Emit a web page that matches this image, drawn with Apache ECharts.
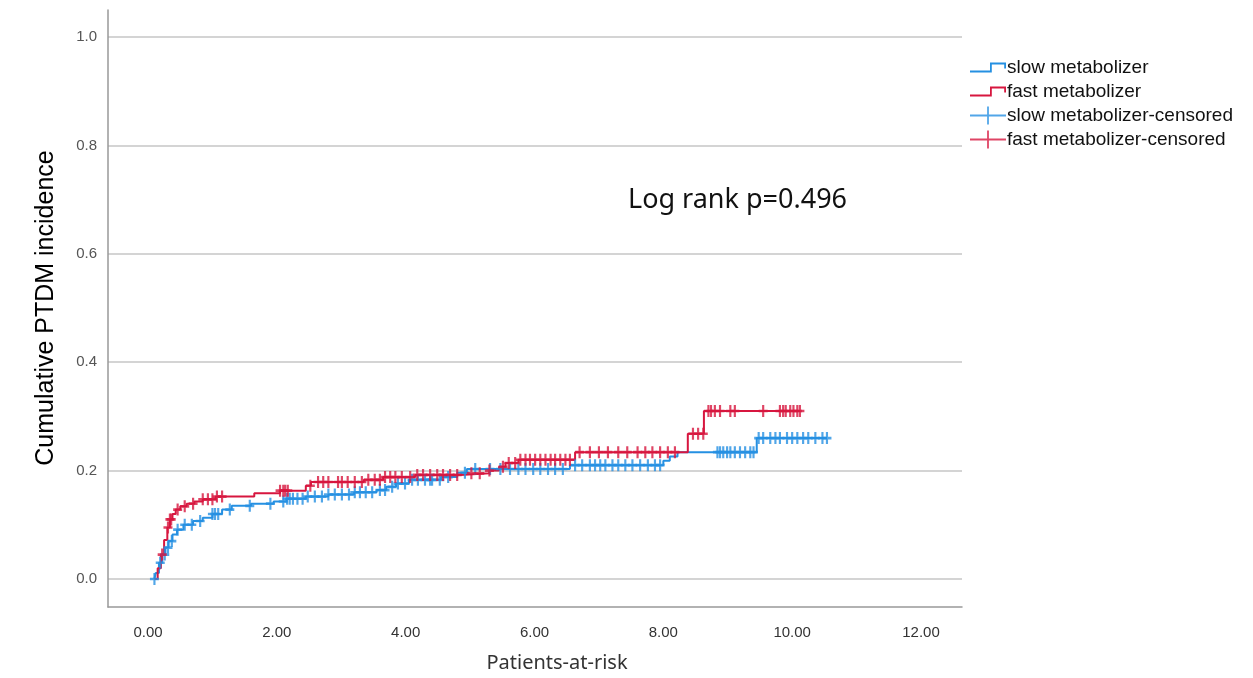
<!DOCTYPE html>
<html>
<head>
<meta charset="utf-8">
<script src="https://cdn.jsdelivr.net/npm/echarts@6/dist/echarts.min.js"></script>
<style>
html,body{margin:0;padding:0;background:#fff;}
#main{width:1253px;height:678px;}
</style>
</head>
<body>
<div id="main"></div>
<script>
// step points (event time, cumulative incidence after event)
var fastT = [0.1, 0.15, 0.2, 0.25, 0.3, 0.34, 0.38, 0.43, 0.5, 0.6, 0.72, 0.85, 1.05, 1.65, 2.05, 2.45, 2.53, 3.35, 3.65, 4.15, 4.85, 5.3, 5.45, 5.55, 5.75, 6.63, 8.38, 8.63, 10.12];
var fastV = [0, 0.02, 0.045, 0.072, 0.095, 0.11, 0.12, 0.128, 0.134, 0.139, 0.143, 0.147, 0.152, 0.158, 0.163, 0.172, 0.179, 0.183, 0.188, 0.192, 0.195, 0.2, 0.207, 0.214, 0.22, 0.234, 0.268, 0.31, 0.31];
var slowT = [0.1, 0.12, 0.17, 0.22, 0.27, 0.32, 0.38, 0.45, 0.55, 0.7, 0.85, 1.0, 1.15, 1.3, 1.6, 1.95, 2.15, 2.45, 2.8, 3.2, 3.55, 3.7, 3.85, 4.05, 4.55, 4.8, 4.95, 6.55, 8.0, 8.1, 8.22, 9.45, 10.54];
var slowV = [0, 0.011, 0.03, 0.045, 0.058, 0.07, 0.082, 0.091, 0.1, 0.107, 0.113, 0.12, 0.128, 0.135, 0.139, 0.143, 0.148, 0.152, 0.156, 0.16, 0.164, 0.17, 0.176, 0.183, 0.188, 0.196, 0.203, 0.21, 0.218, 0.226, 0.234, 0.26, 0.26];
// censored times
var fastCens = [0.22, 0.31, 0.34, 0.36, 0.46, 0.57, 0.70, 0.85, 0.93, 1.00, 1.07, 1.15, 2.05, 2.10, 2.13, 2.17, 2.52, 2.64, 2.72, 2.80, 2.95, 3.01, 3.10, 3.21, 3.32, 3.42, 3.52, 3.60, 3.68, 3.76, 3.84, 3.94, 4.07, 4.18, 4.27, 4.38, 4.49, 4.58, 4.69, 4.80, 5.02, 5.15, 5.30, 5.51, 5.60, 5.70, 5.78, 5.86, 5.93, 6.01, 6.09, 6.17, 6.25, 6.32, 6.40, 6.48, 6.55, 6.70, 6.86, 7.00, 7.14, 7.30, 7.44, 7.60, 7.72, 7.83, 7.95, 8.07, 8.18, 8.46, 8.54, 8.62, 8.70, 8.74, 8.80, 8.88, 9.04, 9.11, 9.55, 9.81, 9.86, 9.90, 9.97, 10.02, 10.08, 10.12];
var slowCens = [0.10, 0.19, 0.26, 0.31, 0.37, 0.46, 0.57, 0.68, 0.81, 1.00, 1.04, 1.09, 1.27, 1.58, 1.90, 2.10, 2.16, 2.20, 2.25, 2.32, 2.40, 2.48, 2.59, 2.70, 2.80, 2.90, 3.01, 3.12, 3.21, 3.29, 3.38, 3.48, 3.60, 3.68, 3.79, 3.88, 3.99, 4.10, 4.19, 4.30, 4.38, 4.41, 4.53, 4.66, 4.92, 5.08, 5.31, 5.47, 5.62, 5.75, 5.86, 5.98, 6.09, 6.21, 6.32, 6.44, 6.63, 6.74, 6.86, 6.94, 7.02, 7.10, 7.21, 7.30, 7.41, 7.52, 7.64, 7.76, 7.87, 7.95, 8.84, 8.88, 8.93, 8.99, 9.04, 9.11, 9.19, 9.27, 9.35, 9.40, 9.48, 9.55, 9.66, 9.74, 9.81, 9.92, 10.00, 10.08, 10.17, 10.25, 10.36, 10.47, 10.54];
var xTicks = [0, 2, 4, 6, 8, 10, 12];
var yTicks = [0, 0.2, 0.4, 0.6, 0.8, 1.0];

var BLUE = '#2590e2', RED = '#d7163f';

function zip(ts, vs){
	var out = [];
	for (var i = 0; i < ts.length; i++) out.push([ts[i], vs[i]]);
	return out;
}
// value of the step curve at time t
function stepAt(ts, vs, t){
	var v = vs[0];
	for (var i = 0; i < ts.length; i++){ if (ts[i] <= t) v = vs[i]; }
	return v;
}
function censPoints(cens, ts, vs){
	return cens.map(function(t){ return [t, stepAt(ts, vs, t)]; });
}

var stepIcon = 'path://M0,11 H20 V3 H36 V9 H34.2 V4.8 H21.8 V12.8 H0 Z';
var plusIcon = 'path://M0,8.1 H36 V9.9 H0 Z M17.1,0 H18.9 V18 H17.1 Z';
var plusSym = 'path://M0,3.9 H10 V6.1 H0 Z M3.8,0 H6.2 V10 H3.8 Z';

var myChart = echarts.init(document.getElementById('main'));
var option = {
	animation: false,
	backgroundColor: '#fff',
	grid: [
		{left: 148, right: 332, top: 37, bottom: 99},
		{left: 108, right: 291, top: 37, bottom: 99},
		{left: 108, right: 291, top: 10, bottom: 71}
	],
	xAxis: [
		{gridIndex: 0, type: 'value', min: xTicks[0], max: xTicks[xTicks.length-1], interval: 2, offset: 28,
			axisLine: {show: false}, axisTick: {show: false}, splitLine: {show: false},
			axisLabel: {margin: 18, fontFamily: 'Liberation Sans', fontSize: 15, color: '#333',
				formatter: function(v){ return v.toFixed(2); }}},
		{gridIndex: 1, type: 'value', min: 0, max: 1, show: false},
		{gridIndex: 2, type: 'value', min: 0, max: 1,
			axisLine: {show: true, onZero: false, lineStyle: {color: '#999', width: 1.5}},
			axisTick: {show: false}, axisLabel: {show: false}, splitLine: {show: false}}
	],
	yAxis: [
		{gridIndex: 0, type: 'value', min: 0, max: 1, show: false},
		{gridIndex: 1, type: 'value', min: yTicks[0], max: yTicks[yTicks.length-1], interval: 0.2,
			axisLine: {show: false}, axisTick: {show: false},
			splitLine: {show: true, lineStyle: {color: '#c6c6c6', width: 1.5}},
			axisLabel: {margin: 11, fontFamily: 'Liberation Sans', fontSize: 15, color: '#555',
				formatter: function(v){ return v.toFixed(1); }}},
		{gridIndex: 2, type: 'value', min: 0, max: 1,
			axisLine: {show: true, onZero: false, lineStyle: {color: '#999', width: 1.5}},
			axisTick: {show: false}, axisLabel: {show: false}, splitLine: {show: false}}
	],
	legend: {
		orient: 'vertical', left: 965, top: 53, itemWidth: 36, itemHeight: 18, itemGap: 5,
		itemStyle: {borderWidth: 0},
		textStyle: {fontFamily: 'Liberation Sans', fontSize: 19, lineHeight: 18, color: '#111', padding: [0, 0, 0, -4]},
		data: [
			{name: 'slow metabolizer', icon: stepIcon},
			{name: 'fast metabolizer', icon: stepIcon},
			{name: 'slow metabolizer-censored', icon: plusIcon},
			{name: 'fast metabolizer-censored', icon: plusIcon}
		]
	},
	graphic: [
		{type: 'text', x: 628, y: 200,
			style: {text: 'Log rank p=0.496', font: '27px "Noto Sans"', fill: '#111', verticalAlign: 'middle'}},
		{type: 'text', x: 557, y: 663,
			style: {text: 'Patients-at-risk', font: '20px "Noto Sans"', fill: '#333', align: 'center', verticalAlign: 'middle'}},
		{type: 'text', x: 46, y: 308, rotation: Math.PI / 2,
			style: {text: 'Cumulative PTDM incidence', font: '25px "Liberation Sans"', fill: '#000', align: 'center', verticalAlign: 'middle'}}
	],
	series: [
		{name: 'slow metabolizer', type: 'line', xAxisIndex: 0, yAxisIndex: 0, step: 'end',
			showSymbol: false, symbol: 'none', color: BLUE, lineStyle: {width: 2, color: BLUE},
			data: zip(slowT, slowV), z: 3},
		{name: 'fast metabolizer', type: 'line', xAxisIndex: 0, yAxisIndex: 0, step: 'end',
			showSymbol: false, symbol: 'none', color: RED, lineStyle: {width: 2, color: RED},
			data: zip(fastT, fastV), z: 4},
		{name: 'slow metabolizer-censored', type: 'scatter', xAxisIndex: 0, yAxisIndex: 0,
			symbol: plusSym, symbolSize: [9, 12], color: BLUE, itemStyle: {color: BLUE},
			data: censPoints(slowCens, slowT, slowV), z: 5},
		{name: 'fast metabolizer-censored', type: 'scatter', xAxisIndex: 0, yAxisIndex: 0,
			symbol: plusSym, symbolSize: [9, 12], color: RED, itemStyle: {color: RED},
			data: censPoints(fastCens, fastT, fastV), z: 6}
	]
};
myChart.setOption(option);
</script>
</body>
</html>
